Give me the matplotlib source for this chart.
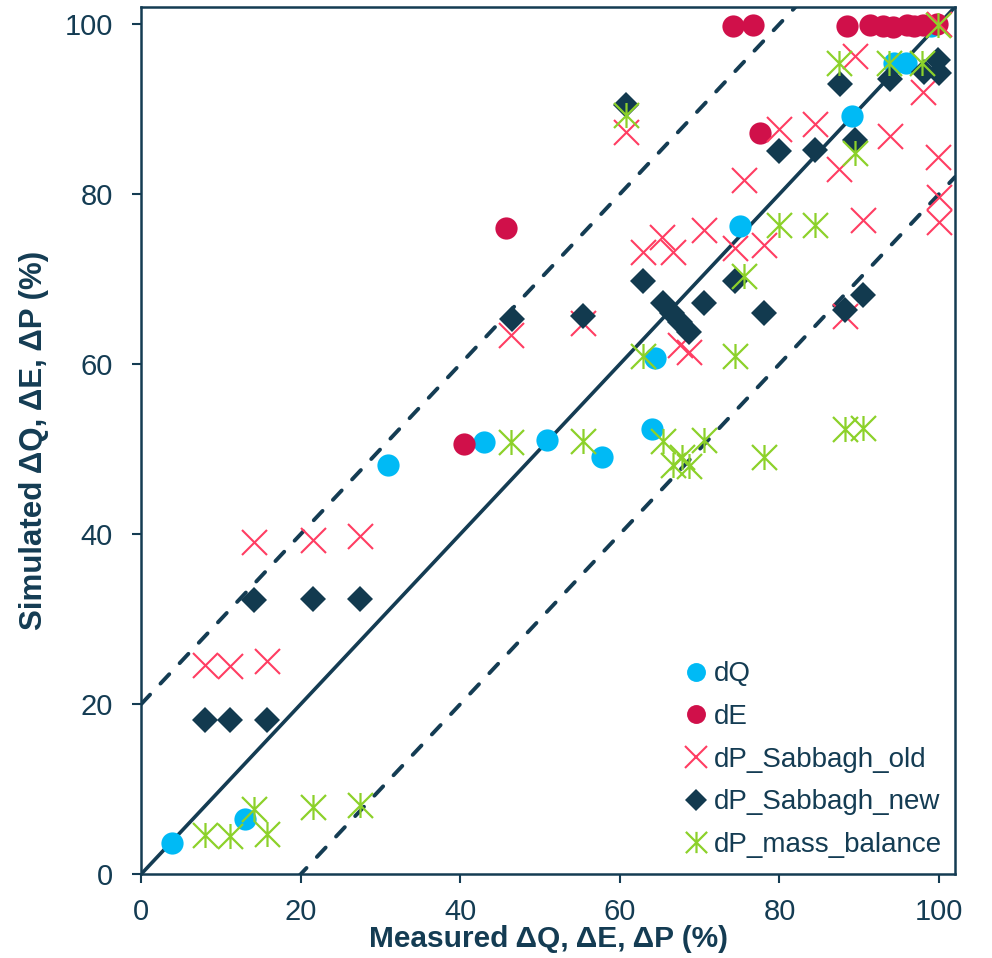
import matplotlib
matplotlib.use("Agg")
import matplotlib.pyplot as plt
from matplotlib.path import Path

plt.rcParams['font.family'] = ['Liberation Sans', 'DejaVu Sans']

# ---- data ----
dQ_x = [3.8, 13.0, 30.9, 42.9, 50.9, 57.7, 64.0, 64.4, 75.0, 89.1, 94.3, 95.8, 99.0]
dQ_y = [3.7, 6.5, 48.1, 50.8, 51.1, 49.1, 52.4, 60.7, 76.2, 89.2, 95.4, 95.4, 99.8]

dE_x = [40.5, 45.7, 77.6, 74.2, 76.7, 88.5, 91.4, 93.0, 94.2, 96.0, 96.8, 98.0, 99.7]
dE_y = [50.6, 76.0, 87.2, 99.8, 99.9, 99.8, 99.9, 99.8, 99.7, 99.9, 99.8, 99.9, 100.0]

old_x = [8.0, 11.1, 15.7, 14.1, 21.5, 27.4, 46.4, 55.4, 60.8, 62.9, 65.3, 66.6, 67.5, 68.6,
         70.5, 74.4, 75.6, 78.1, 79.9, 84.4, 87.5, 88.2, 89.5, 90.5, 93.8, 98.0, 99.9, 100.0,
         100.0, 100.0]
old_y = [24.6, 24.5, 25.1, 39.1, 39.3, 39.8, 63.4, 64.8, 87.3, 73.2, 75.0, 73.2, 62.2, 61.4,
         75.8, 73.6, 81.6, 74.0, 87.7, 88.2, 83.0, 65.6, 96.2, 76.9, 86.8, 92.0, 84.4, 79.7,
         76.7, 100.0]

new_x = [8.0, 11.1, 15.7, 14.1, 21.5, 27.4, 46.5, 55.4, 60.8, 62.9, 65.4, 66.5, 67.5, 68.6,
         70.5, 74.4, 78.1, 79.9, 84.4, 87.6, 88.2, 89.5, 90.5, 93.8, 98.1, 99.9, 100.0]
new_y = [18.1, 18.1, 18.1, 32.2, 32.3, 32.4, 65.3, 65.6, 90.5, 69.8, 67.2, 66.0, 64.9, 63.8,
         67.2, 69.8, 66.0, 85.1, 85.2, 93.0, 66.4, 86.4, 68.1, 93.5, 94.3, 95.8, 94.2]

mb_x = [8.0, 11.1, 15.7, 14.1, 21.5, 27.4, 46.4, 55.4, 60.8, 62.9, 65.4, 66.7, 67.8, 68.7,
        70.5, 74.4, 75.6, 78.1, 79.9, 84.4, 87.5, 88.2, 89.5, 90.5, 93.7, 97.9, 99.9]
mb_y = [4.6, 4.5, 4.7, 7.7, 7.9, 8.1, 50.8, 51.0, 89.3, 60.9, 50.9, 48.1, 49.1, 48.0,
        51.1, 60.9, 70.3, 49.1, 76.4, 76.4, 95.4, 52.4, 84.8, 52.5, 95.4, 95.4, 99.9]

ref_x = [0, 102]
band = 20
ticks = [0, 20, 40, 60, 80, 100]

# ---- style ----
NAVY = '#143C53'
C_Q = '#00BAF5'
C_E = '#D0104A'
C_OLD = '#FF3D62'
C_NEW = '#123A4F'
C_MB = '#8CD12A'

asterisk = Path([(-1, -1), (1, 1), (-1, 1), (1, -1), (0, -1), (0, 1)],
                [Path.MOVETO, Path.LINETO, Path.MOVETO, Path.LINETO, Path.MOVETO, Path.LINETO])

fig = plt.figure(figsize=(9.92, 9.58), dpi=100)
ax = fig.add_axes([141.3 / 992, 84 / 958, 813.7 / 992, 867 / 958])

ax.plot(ref_x, ref_x, color=NAVY, lw=2.6, solid_capstyle='butt', zorder=1)
ax.plot(ref_x, [v + band for v in ref_x], color=NAVY, lw=2.8, dashes=(3.3, 3.9),
        dash_capstyle='round', zorder=1)
ax.plot(ref_x, [v - band for v in ref_x], color=NAVY, lw=2.8, dashes=(3.3, 3.9),
        dash_capstyle='round', zorder=1)

ax.plot(dQ_x, dQ_y, ls='none', marker='o', ms=16, mew=0, color=C_Q, label='dQ', zorder=2)
ax.plot(dE_x, dE_y, ls='none', marker='o', ms=16, mew=0, color=C_E, label='dE', zorder=3)
ax.plot(old_x, old_y, ls='none', marker='x', ms=18, mew=1.5, color=C_OLD,
        label='dP_Sabbagh_old', zorder=4)
ax.plot(new_x, new_y, ls='none', marker='D', ms=13, mew=0, color=C_NEW,
        label='dP_Sabbagh_new', zorder=5)
ax.plot(mb_x, mb_y, ls='none', marker=asterisk, ms=18, mew=1.6, color=C_MB,
        label='dP_mass_balance', zorder=6)

ax.set_xlim(0, 102)
ax.set_ylim(0, 102)
ax.set_xticks(ticks)
ax.set_yticks(ticks)
ax.tick_params(direction='out', length=6.5, width=1.5, color=NAVY, labelcolor=NAVY,
               labelsize=21)
ax.tick_params(axis='x', pad=11)
ax.tick_params(axis='y', pad=14)
for s in ax.spines.values():
    s.set_color(NAVY)
    s.set_linewidth(1.8)

ax.set_xlabel('Measured ΔQ, ΔE, ΔP (%)', fontsize=21.5, fontweight='bold', color=NAVY,
              labelpad=-1)
ax.set_ylabel('Simulated ΔQ, ΔE, ΔP (%)', fontsize=22.5, fontweight='bold', color=NAVY,
              labelpad=11)

leg = ax.legend(loc='lower right', bbox_to_anchor=(1.008, -0.004), frameon=False,
                fontsize=20, markerscale=0.85, handlelength=0.8, handletextpad=0.25,
                labelspacing=0.6, borderaxespad=0.3)
for t in leg.get_texts():
    t.set_color(NAVY)

fig.savefig('out.png', dpi=100)
